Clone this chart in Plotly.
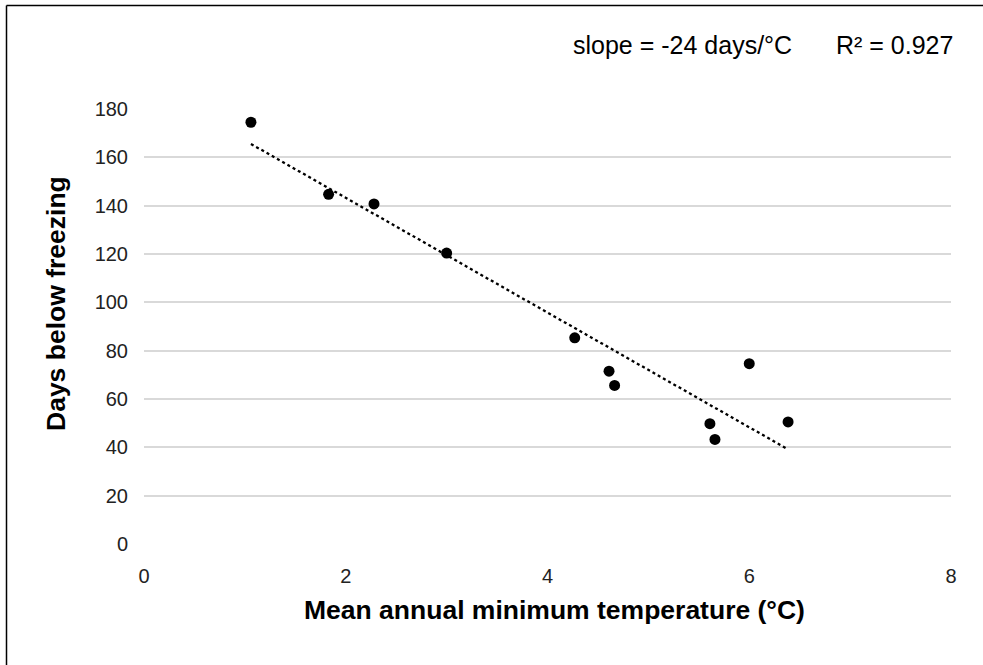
import numpy as np
import plotly.graph_objects as go

temp_c = [1.06, 1.83, 2.28, 3.00, 4.27, 4.61, 4.665, 5.61, 5.66, 6.00, 6.385]
days_below = [174.5, 144.7, 140.7, 120.4, 85.3, 71.5, 65.6, 49.8, 43.3, 74.6, 50.5]
x_ticks = [0, 2, 4, 6, 8]
y_ticks = [0, 20, 40, 60, 80, 100, 120, 140, 160, 180]
slope_label = "slope = -24 days/°C"
r2_label = "R² = 0.927"
x_title = "<b>Mean annual minimum temperature (°C)</b>"
y_title = "<b>Days below freezing</b>"

x_arr = np.array(temp_c)
y_arr = np.array(days_below)
m, b = np.polyfit(x_arr, y_arr, 1)
x_fit = np.array([x_arr.min(), x_arr.max()])
y_fit = m * x_fit + b

FONT = "Liberation Sans, Arial, sans-serif"

fig = go.Figure()
fig.add_trace(go.Scatter(x=x_fit, y=y_fit, mode="lines",
                         line=dict(color="black", width=2.3, dash="dot"),
                         showlegend=False, hoverinfo="skip"))
fig.add_trace(go.Scatter(x=temp_c, y=days_below, mode="markers",
                         marker=dict(color="black", size=11),
                         showlegend=False))

L, R, T, B = 144, 32, 108, 120
W, H = 983, 665
pw = W - L - R
ph = H - T - B

def px2paper_x(px):
    return (px - L) / pw

def px2paper_y(py):
    return (H - B - py) / ph

fig.update_layout(
    width=W, height=H,
    margin=dict(l=L, r=R, t=T, b=B),
    paper_bgcolor="white", plot_bgcolor="white",
    font=dict(family=FONT, color="black", size=20),
    xaxis=dict(range=[0, 8], tickvals=x_ticks, showgrid=False, zeroline=False,
               showline=False, ticks="", tickfont=dict(size=20, color="#222"),
               ticklabelstandoff=17),
    yaxis=dict(range=[-0.4, 180.4], tickvals=y_ticks, showgrid=True,
               gridcolor="#d9d9d9", gridwidth=1.5, zeroline=False,
               showline=False, ticks="", tickfont=dict(size=20, color="#222"),
               ticklabelstandoff=15),
    shapes=[
        dict(type="line", xref="paper", yref="paper",
             x0=px2paper_x(6.5), x1=px2paper_x(6.5),
             y0=px2paper_y(H + 5), y1=px2paper_y(5.5),
             line=dict(color="black", width=1.5)),
        dict(type="line", xref="paper", yref="paper",
             x0=px2paper_x(6.5), x1=px2paper_x(W + 5),
             y0=px2paper_y(5.5), y1=px2paper_y(5.5),
             line=dict(color="black", width=1.5)),
    ],
    annotations=[
        dict(text=slope_label, xref="paper", yref="paper",
             x=px2paper_x(682), y=px2paper_y(45), showarrow=False,
             xanchor="center", yanchor="middle", font=dict(size=25, color="black")),
        dict(text=r2_label, xref="paper", yref="paper",
             x=px2paper_x(894.5), y=px2paper_y(45), showarrow=False,
             xanchor="center", yanchor="middle", font=dict(size=25, color="black")),
        dict(text=x_title, xref="paper", yref="paper",
             x=px2paper_x(554), y=px2paper_y(610), showarrow=False,
             xanchor="center", yanchor="middle", font=dict(size=26.5, color="black")),
        dict(text=y_title, xref="paper", yref="paper", textangle=-90,
             x=px2paper_x(56), y=px2paper_y(304), showarrow=False,
             xanchor="center", yanchor="middle", font=dict(size=26.5, color="black")),
    ],
)

fig.write_html("out.html")
